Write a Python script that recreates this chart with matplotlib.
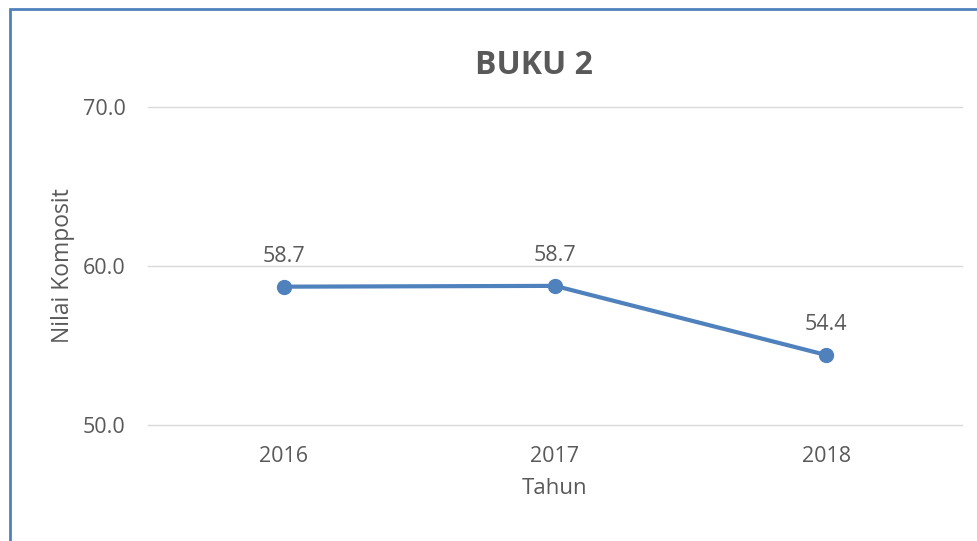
import matplotlib
matplotlib.use("Agg")
import matplotlib.pyplot as plt
from matplotlib.patches import Rectangle

years = ["2016", "2017", "2018"]
values = [58.7, 58.75, 54.4]
labels = ["58.7", "58.7", "54.4"]
yticks = [50.0, 60.0, 70.0]

plt.rcParams['font.family'] = ['Open Sans', 'DejaVu Sans']
txt = '#595959'
blue = '#4F81BD'

fig = plt.figure(figsize=(9.77, 5.41), dpi=100)
ax = fig.add_axes([148/977, 1-425/541, (962-148)/977, (425-107)/541])

x = list(range(len(years)))
ax.plot(x, values, color=blue, linewidth=3, marker='o', markersize=10, solid_capstyle='round', zorder=3)
for xi, v, lab in zip(x, values, labels):
    ax.annotate(lab, (xi, v), xytext=(0, 22), textcoords='offset points',
                ha='center', va='center', fontsize=15.5, color=txt)

ax.set_xlim(-0.5, len(years)-0.5)
ax.set_ylim(50, 70)
ax.set_yticks(yticks)
ax.set_yticklabels([f"{t:.1f}" for t in yticks])
ax.set_xticks(x)
ax.set_xticklabels(years)
ax.tick_params(axis='both', length=0, labelsize=15.5, labelcolor=txt)
ax.tick_params(axis='y', pad=16)
ax.tick_params(axis='x', pad=15)
ax.grid(axis='y', color='#D9D9D9', linewidth=1)
for gl in ax.get_ygridlines():
    gl.set_clip_on(False)
ax.set_axisbelow(True)
for s in ax.spines.values():
    s.set_visible(False)

ax.set_xlabel("Tahun", fontsize=16, color=txt, labelpad=8)
ax.set_ylabel("Nilai Komposit", fontsize=16.5, color=txt)
ax.yaxis.label.set_va('center')
ax.yaxis.set_label_coords((63-148)/(962-148), 0.5)
fig.text(534/977, 1-66/541, "BUKU 2", ha='center', va='center', fontsize=23,
         fontweight='bold', color=txt)

fig.patches.append(Rectangle((9.5/977, -0.1), 1.2, 1-8.5/541+0.1, transform=fig.transFigure,
                             fill=False, edgecolor=blue, linewidth=2))
fig.savefig("out.png", dpi=100)
